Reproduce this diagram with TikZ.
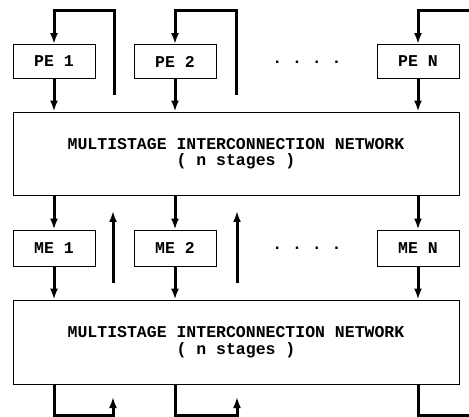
\documentclass[tikz,border=0pt]{standalone}
\usepackage{fontspec}
\setmonofont{Liberation Mono}
\usetikzlibrary{arrows.meta}

\begin{document}
\begin{tikzpicture}[x=1pt, y=-1pt, every node/.style={
      font=\fontsize{16.5}{16.5}\selectfont\ttfamily\bfseries},
    box/.style={draw, line width=0.9pt, minimum width=82pt, minimum height=34pt,
      inner sep=0pt},
    netbox/.style={box, minimum width=446pt, minimum height=83pt, align=center},
    link/.style={line width=3pt, -{Latex[length=11pt,width=8pt]}},
    wire/.style={line width=3pt}]
    \useasboundingbox (0,0) rectangle (469,417);
    \node[box] (pe1) at (54,61.5) {PE 1};
    \node[box] (pe2) at (175,61.5) {PE 2};
    \node[box] (pen) at (418,61.5) {PE N};
    \node[anchor=base] (pedots) at (307,64) {. . . .};
    \node[netbox] (net1) at (236,153.5) {MULTISTAGE INTERCONNECTION NETWORK\\( n stages )};
    \node[box, minimum height=36pt] (me1) at (54,248) {ME 1};
    \node[box, minimum height=36pt] (me2) at (175,248) {ME 2};
    \node[box, minimum height=36pt] (men) at (418,248) {ME N};
    \node[anchor=base] (medots) at (307,250) {. . . .};
    \node[netbox, minimum height=84pt] (net2) at (236,342) {MULTISTAGE INTERCONNECTION NETWORK\\( n stages )};
    % feedback ends
    \coordinate (r1) at (114,95);
    \coordinate (r2) at (236,95);
    \coordinate (rn) at (469,11);
    \coordinate (u1) at (113,283);
    \coordinate (u2) at (237,283);
    \coordinate (b1) at (113,397);
    \coordinate (b2) at (237,397);
    \coordinate (bn) at (469,415);
    \draw[link] (r1) -- (114,11) -| (pe1.north);
    \draw[link] (r2) -- (236,11) -| (pe2.north);
    \draw[link] (rn) -| (pen.north);
    \foreach \n in {1,2,n} {
      \draw[link] (pe\n.south) -- (pe\n.south |- net1.north);
      \draw[link] (me\n.north |- net1.south) -- (me\n.north);
      \draw[link] (me\n.south) -- (me\n.south |- net2.north);
    }
    \draw[link] (u1) -- (113,211);
    \draw[link] (u2) -- (237,211);
    \draw[link] (net2.south -| me1) |- (113,415) -- (b1);
    \draw[link] (net2.south -| me2) |- (237,415) -- (b2);
    \draw[wire] (net2.south -| men) |- (bn);
  \end{tikzpicture}
\end{document}
